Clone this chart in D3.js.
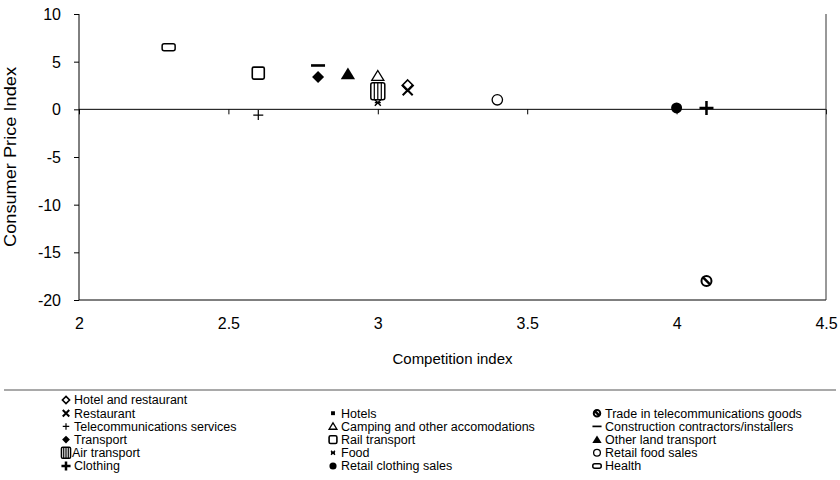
<!DOCTYPE html>
<html>
<head>
<meta charset="utf-8">
<script src="https://cdn.jsdelivr.net/npm/d3@7/dist/d3.min.js"></script>
<style>
  body { margin: 0; background: #fff; }
  text { font-family: "Liberation Sans", Arial, sans-serif; fill: #000; }
</style>
</head>
<body>
<svg width="840" height="480"></svg>
<script>
// series, in legend order
const seriesNames = [
  'Hotel and restaurant', 'Restaurant', 'Telecommunications services', 'Transport', 'Air transport', 'Clothing',
  'Hotels', 'Camping and other accomodations', 'Rail transport', 'Food', 'Retail clothing sales',
  'Trade in telecommunications goods', 'Construction contractors/installers', 'Other land transport', 'Retail food sales', 'Health'
];
const competition = [3.1, 3.1, 2.6, 2.8, 3.0, 4.1, 3.0, 3.0, 2.6, 3.0, 4.0, 4.1, 2.8, 2.9, 3.4, 2.3];
const cpi =         [2.5, 2.0, -0.6, 3.4, 1.9, 0.15, 1.8, 3.5, 3.8, 0.7, 0.15, -18.0, 4.6, 3.7, 1.0, 6.5];
const markers = ['diamondOpen', 'x', 'plusThin', 'diamond', 'striped', 'plusBold',
  'squareSmall', 'triangleOpen', 'squareOpen', 'star', 'circle',
  'hatched', 'dash', 'triangle', 'circleOpen', 'pill'];
// legend grid: column, row
const legendCol = [0, 0, 0, 0, 0, 0, 1, 1, 1, 1, 1, 2, 2, 2, 2, 2];
const legendRow = [0, 1, 2, 3, 4, 5, 1, 2, 3, 4, 5, 1, 2, 3, 4, 5];

const xTicks = [2, 2.5, 3, 3.5, 4, 4.5];
const yTicks = [10, 5, 0, -5, -10, -15, -20];

const svg = d3.select('svg');
const margin = {top: 14, right: 14, bottom: 180, left: 79};
const width = +svg.attr('width');
const height = +svg.attr('height');
const innerWidth = width - margin.left - margin.right;
const innerHeight = height - margin.top - margin.bottom;

const xScale = d3.scaleLinear().domain([2, 4.5]).range([0, innerWidth]);
const yScale = d3.scaleLinear().domain([-20, 10]).range([innerHeight, 0]);

const g = svg.append('g')
  .attr('transform', `translate(${margin.left},${margin.top})`);

// y axis
const yAxisG = g.append('g')
  .call(d3.axisLeft(yScale).tickValues(yTicks).tickSize(5).tickPadding(13).tickFormat(d => String(d)));
yAxisG.selectAll('text').style('font-size', '16px').attr('dy', '0.35em');
yAxisG.select('.domain').attr('d', `M0,0V${innerHeight}`);

// zero line acts as the x axis, labels sit below the plot
const zeroG = g.append('g')
  .attr('transform', `translate(0,${yScale(0)})`)
  .call(d3.axisBottom(xScale).tickValues(xTicks).tickSize(5));
zeroG.select('.domain').attr('d', `M0,0H${innerWidth}`);
zeroG.selectAll('text').remove();

const xLabelG = g.append('g')
  .attr('transform', `translate(0,${innerHeight})`)
  .call(d3.axisBottom(xScale).tickValues(xTicks).tickSize(0).tickPadding(18).tickFormat(d => String(d)));
xLabelG.select('.domain').remove();
xLabelG.selectAll('text').style('font-size', '16px');

// bottom and right frame
g.append('line').attr('x1', 0).attr('x2', innerWidth).attr('y1', innerHeight).attr('y2', innerHeight)
  .attr('stroke', '#000');
g.append('line').attr('x1', innerWidth).attr('x2', innerWidth).attr('y1', 0).attr('y2', innerHeight)
  .attr('stroke', '#333');

// axis titles
g.append('text')
  .attr('x', innerWidth / 2)
  .attr('y', innerHeight + 64)
  .attr('text-anchor', 'middle')
  .style('font-size', '15px')
  .text('Competition index');
g.append('text')
  .attr('transform', `translate(${-63},${innerHeight / 2}) rotate(-90)`)
  .attr('text-anchor', 'middle')
  .attr('textLength', 180)
  .attr('lengthAdjust', 'spacingAndGlyphs')
  .style('font-size', '16px')
  .text('Consumer Price Index');

// marker drawing
const drawMarker = (sel, type, s) => {
  const k = s || 1;
  const diamondPath = r => `M0,${-r}L${r},0L0,${r}L${-r},0Z`;
  const triPath = r => `M0,${-r}L${r * 1.1},${r * 0.8}L${-r * 1.1},${r * 0.8}Z`;
  switch (type) {
    case 'diamondOpen':
      sel.append('path').attr('d', diamondPath(5.5 * k)).attr('fill', '#fff').attr('stroke', '#000').attr('stroke-width', 1.6);
      break;
    case 'diamond':
      sel.append('path').attr('d', diamondPath(6 * k)).attr('fill', '#000');
      break;
    case 'x':
      sel.append('path').attr('d', `M${-5*k},${-5*k}L${5*k},${5*k}M${5*k},${-5*k}L${-5*k},${5*k}`)
        .attr('stroke', '#000').attr('stroke-width', 2).attr('fill', 'none');
      break;
    case 'plusThin':
      sel.append('path').attr('d', `M${-5*k},0H${5*k}M0,${-5*k}V${5*k}`)
        .attr('stroke', '#000').attr('stroke-width', 1.2).attr('fill', 'none');
      break;
    case 'plusBold':
      sel.append('path').attr('d', `M${-7*k},0H${7*k}M0,${-7*k}V${7*k}`)
        .attr('stroke', '#000').attr('stroke-width', 2.5).attr('fill', 'none');
      break;
    case 'striped': {
      const w = 14 * k, h = 17 * k;
      sel.append('rect').attr('x', -w / 2).attr('y', -h / 2).attr('width', w).attr('height', h)
        .attr('rx', 2 * k).attr('fill', '#fff').attr('stroke', '#000').attr('stroke-width', 1.5);
      sel.append('path')
        .attr('d', [-w / 4, 0, w / 4].map(x => `M${x},${-h / 2}V${h / 2}`).join(''))
        .attr('stroke', '#000').attr('stroke-width', 1.2);
      break;
    }
    case 'squareSmall':
      sel.append('rect').attr('x', -3 * k).attr('y', -3 * k).attr('width', 6 * k).attr('height', 6 * k).attr('fill', '#000');
      break;
    case 'triangleOpen':
      sel.append('path').attr('d', triPath(5.5 * k)).attr('fill', '#fff').attr('stroke', '#000').attr('stroke-width', 1.3);
      break;
    case 'triangle':
      sel.append('path').attr('d', triPath(6.5 * k)).attr('fill', '#000');
      break;
    case 'squareOpen':
      sel.append('rect').attr('x', -6 * k).attr('y', -6 * k).attr('width', 12 * k).attr('height', 12 * k)
        .attr('rx', 1.5).attr('fill', '#fff').attr('stroke', '#000').attr('stroke-width', 1.6);
      break;
    case 'star':
      sel.append('path').attr('d', `M${-3*k},${-3*k}L${3*k},${3*k}M${3*k},${-3*k}L${-3*k},${3*k}M${-3*k},0H${3*k}`)
        .attr('stroke', '#000').attr('stroke-width', 1.4).attr('fill', 'none');
      break;
    case 'circle':
      sel.append('circle').attr('r', 5.5 * k).attr('fill', '#000');
      break;
    case 'circleOpen':
      sel.append('circle').attr('r', 5.2 * k).attr('fill', '#fff').attr('stroke', '#000').attr('stroke-width', 1.3);
      break;
    case 'hatched':
      sel.append('circle').attr('r', 5 * k).attr('fill', '#fff').attr('stroke', '#000').attr('stroke-width', 2);
      sel.append('path').attr('d', `M${-4*k},${-4*k}L${4*k},${4*k}`)
        .attr('stroke', '#000').attr('stroke-width', 2.5);
      break;
    case 'dash':
      sel.append('rect').attr('x', -7 * k).attr('y', -1.3 * k).attr('width', 14 * k).attr('height', 2.6 * k).attr('fill', '#000');
      break;
    case 'pill':
      sel.append('rect').attr('x', -6.5 * k).attr('y', -3.5 * k).attr('width', 13 * k).attr('height', 7 * k)
        .attr('rx', 2).attr('fill', '#fff').attr('stroke', '#000').attr('stroke-width', 1.5);
      break;
  }
};

// points (hotels drawn first so it stays behind air transport)
const drawOrder = d3.range(seriesNames.length).sort((a, b) => (a === 6 ? -1 : b === 6 ? 1 : a - b));
drawOrder.forEach(i => {
  const mg = g.append('g')
    .attr('class', 'marker')
    .attr('transform', `translate(${xScale(competition[i])},${yScale(cpi[i])})`);
  drawMarker(mg, markers[i], 1);
});

// legend
svg.append('line').attr('x1', 4).attr('x2', 836).attr('y1', 390).attr('y2', 390)
  .attr('stroke', '#555').attr('stroke-width', 1.2);

const colX = [66, 333, 597];
const rowY = d3.range(6).map(r => 400 + r * 13.2);
seriesNames.forEach((name, i) => {
  const lg = svg.append('g')
    .attr('transform', `translate(${colX[legendCol[i]]},${rowY[legendRow[i]]})`);
  const mg = lg.append('g');
  drawMarker(mg, markers[i], 0.65);
  lg.append('text')
    .attr('x', markers[i] === 'striped' ? 6 : 8)
    .attr('dy', '0.35em')
    .style('font-size', '12.5px')
    .text(name);
});
</script>
</body>
</html>
